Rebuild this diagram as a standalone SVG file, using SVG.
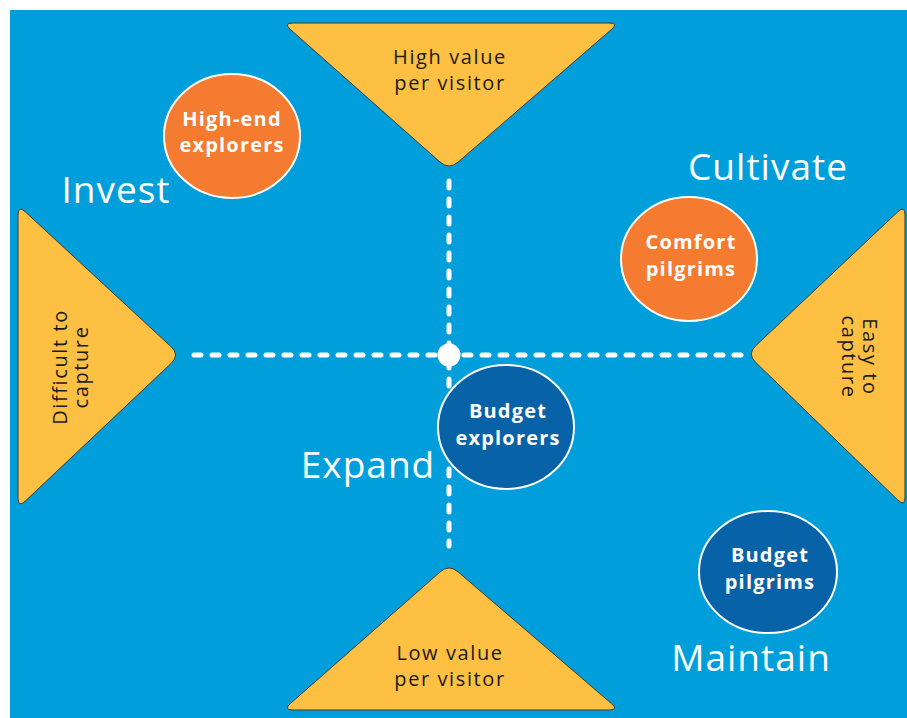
<svg xmlns="http://www.w3.org/2000/svg" width="907" height="718" viewBox="0 0 907 718">
<style>
.tri{fill:#FDC043;stroke:#3a3a3a;stroke-width:1}
.tt{font-family:"Open Sans","Noto Sans",sans-serif;font-size:20px;letter-spacing:1.6px;fill:#1a1a1a;text-anchor:middle}
.ct{font-family:"Open Sans","Noto Sans",sans-serif;font-size:20px;letter-spacing:1.2px;font-weight:bold;fill:#fff;text-anchor:middle}
.q{font-family:"Open Sans","Noto Sans",sans-serif;font-size:37px;letter-spacing:1px;fill:#fff;text-anchor:middle}
.or{fill:#F47B30;stroke:#fff;stroke-width:2}
.db{fill:#0862A8;stroke:#fff;stroke-width:2}
.dash{stroke:#fff;stroke-width:5;stroke-dasharray:7 11;stroke-linecap:round;fill:none}
</style>
<rect x="0" y="0" width="907" height="718" fill="#fff"/>
<rect x="10" y="10" width="897" height="708" fill="#009FDB"/>
<g id="connectors">
<line class="dash" x1="194" y1="355" x2="744" y2="355"/>
<line class="dash" x1="449" y1="181" x2="449" y2="546"/>
<circle cx="449" cy="355" r="11.5" fill="#fff"/>
</g>
<g id="top">
<path class="tri" d="M293,23 L609,23 Q619,23 611.4,29.5 L458,162.2 Q449,170 440,162 L290.5,29.6 Q283,23 293,23 Z"/>
<text class="tt" x="450" y="64">High value</text>
<text class="tt" x="450" y="90">per visitor</text>
</g>
<g id="bottom">
<path class="tri" d="M293,710 L609,710 Q619,710 611.4,703.5 L458,571.8 Q449,564 440,572 L290.5,703.4 Q283,710 293,710 Z"/>
<text class="tt" x="450" y="660">Low value</text>
<text class="tt" x="450" y="686">per visitor</text>
</g>
<g id="left">
<path class="tri" d="M18,215 Q18,205 25.3,211.8 L171.2,346.8 Q180,355 171.3,363.2 L25.3,501.1 Q18,508 18,498 Z"/>
<g transform="translate(76,367) rotate(-90)">
<text class="tt" x="0" y="-9">Difficult to</text>
<text class="tt" x="0" y="12">capture</text>
</g>
</g>
<g id="right">
<path class="tri" d="M905,215 Q905,205 897.7,211.9 L755.7,345.8 Q747,354 755.6,362.3 L897.8,500 Q905,507 905,497 Z"/>
<g transform="translate(853,357) rotate(90)">
<text class="tt" x="0" y="-10">Easy to</text>
<text class="tt" x="0" y="11">capture</text>
</g>
</g>
<g id="high-end-explorers">
<ellipse class="or" cx="232" cy="136" rx="68" ry="62"/>
<text class="ct" x="232" y="126">High-end</text>
<text class="ct" x="232" y="152">explorers</text>
</g>
<g id="comfort-pilgrims">
<ellipse class="or" cx="689" cy="259" rx="68" ry="62"/>
<text class="ct" x="691" y="249">Comfort</text>
<text class="ct" x="691" y="276">pilgrims</text>
</g>
<g id="budget-explorers">
<ellipse class="db" cx="506" cy="427" rx="68" ry="62"/>
<text class="ct" x="508" y="418">Budget</text>
<text class="ct" x="508" y="445">explorers</text>
</g>
<g id="budget-pilgrims">
<ellipse class="db" cx="768" cy="572" rx="69" ry="61"/>
<text class="ct" x="770" y="562">Budget</text>
<text class="ct" x="770" y="589">pilgrims</text>
</g>
<g id="labels">
<text class="q" x="116" y="203">Invest</text>
<text class="q" x="768" y="180">Cultivate</text>
<text class="q" x="368" y="478">Expand</text>
<text class="q" x="751" y="671">Maintain</text>
</g>
</svg>
